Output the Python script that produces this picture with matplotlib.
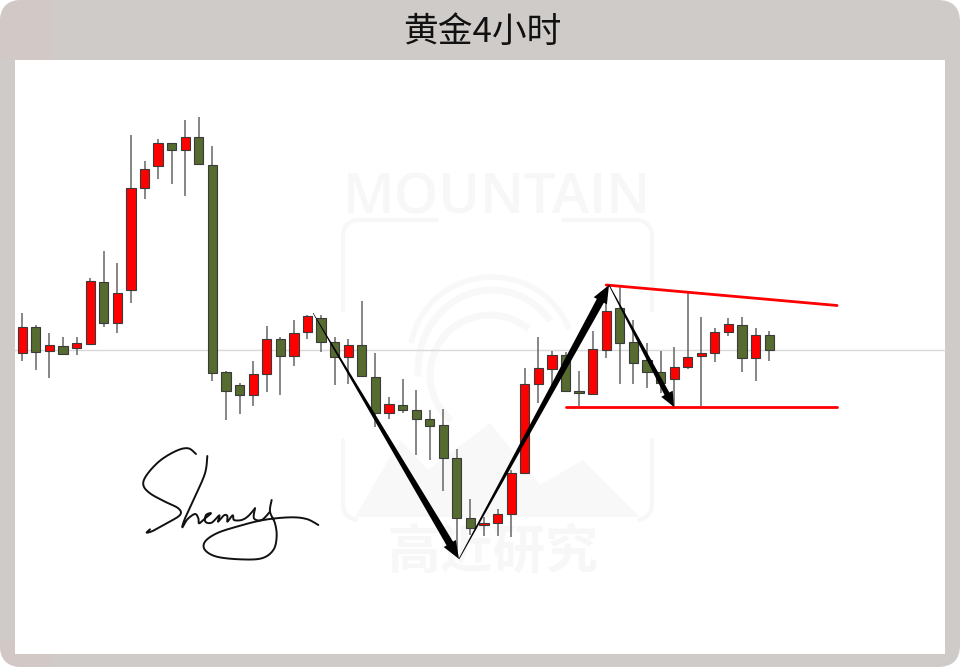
import numpy as np
import matplotlib
matplotlib.use("Agg")
import matplotlib.pyplot as plt
from matplotlib.patches import FancyBboxPatch, Rectangle, Polygon, Arc

plt.rcParams['font.family'] = ['Noto Sans CJK SC', 'DejaVu Sans']

# Candle readings on a screen-height scale (smaller = higher on the chart)
body_top = [327.3,326.7,345.3,346,343.3,280.7,281.7,292.7,188.3,169,143.3,143.3,136.7,136.7,165.3,372.3,
            385.3,374.3,338.7,338.7,332.7,315.7,318,342,344.7,345.3,376.7,404,404.7,409.7,419,425,
            458,518.3,522.7,514.3,472.7,383.7,368.3,355.3,355.3,391,349.3,310.7,308,341.7,359.7,372.3,
            366.7,357.3,352.7,332,324,325,335.3,335.3]
body_bottom = [353.3,352,351,353.7,348,343.7,323,323,290,188.3,166,150.3,150.3,163.7,373.3,391.3,
               394.7,394.7,374,356.3,356.3,332.3,342,357.3,357.3,376,413.3,413.3,409.7,419.3,426,458.3,
               518.3,527.7,525.3,522.7,514,472.7,384.3,369,391.3,393,394,349.7,342.7,363.3,372.3,383,
               379,366.7,356.3,352.7,332.3,358,358,350.3]
wick_top = [312.7,325,333.3,336.7,337.3,278.3,250.7,262.7,135.3,160.7,138.7,143.3,120,116.7,145.7,370.7,
            382.7,361.3,325.7,337.3,319.7,315,315,336.7,339,301,352.7,396.7,379,390,410.3,409.3,
            449.3,499.3,516.7,509.3,470,368,336.7,350.7,351.7,371.3,330.7,297,285,320,343,350.7,
            347.3,292.7,317,328.3,318.3,317,328.3,330.7]
wick_bottom = [360.7,370,377.7,353.7,355,343.7,327,332.7,303.3,198.7,178.7,184.3,196,165,381,420,
               414,406.3,392.3,395.3,366,338.7,352.3,384.7,383.7,376,426.7,419.3,413.3,455,460,491.3,
               553.3,535,535.7,535.7,537.3,474.3,403.3,386.7,392,406,394.3,358.3,383.7,383.7,388,393,
               409,368.7,406,361.7,336.3,371.7,381,360.7]
is_up = [1,0,1,0,1,1,0,1,1,1,1,0,1,0,0,0,
         0,1,1,0,1,1,0,0,1,0,0,1,0,0,0,0,
         0,0,1,1,1,1,1,1,0,0,1,1,0,0,0,0,
         1,1,1,1,1,0,1,0]
reference_level = 350.0
resistance = ([43.0, 60.0], [285.0, 305.5])
support = ([40.0, 60.0], [406.5, 406.5])
title = "黄金4小时"
watermark_en = "MOUNTAIN"
watermark_cn = "高近研究"

W, H = 960, 667
X0, DX = 22.3, 13.58
fig = plt.figure(figsize=(W/100, H/100), dpi=100, facecolor='white')

# Pixel-space layer: card, title, watermark, signature
bg = fig.add_axes([0, 0, 1, 1], zorder=0)
bg.set_xlim(0, W); bg.set_ylim(H, 0); bg.axis('off')

card = FancyBboxPatch((0, 0), W, H, boxstyle="round,pad=0,rounding_size=22",
                      fc='#cfcbc9', ec='none')
bg.add_patch(card)
for (x, y, w, h) in [(0, 0, 54, 60), (0, 640, 54, 27)]:
    r = Rectangle((x, y), w, h, fc='#d2c9c6', ec='none')
    bg.add_patch(r)
    r.set_clip_path(card)
bg.add_patch(Rectangle((15, 60), 930, 594, fc='white', ec='none'))
bg.text(482, 32.5, title, ha='center', va='center', fontsize=25, color='#111111', fontweight='medium')

# Watermark
WM = '#f7f7f7'
bg.text(497, 199, watermark_en, ha='center', va='center', fontsize=40.5, color=WM,
        family=['Open Sans', 'DejaVu Sans'], fontweight='semibold')
bg.text(493, 552, watermark_cn, ha='center', va='center', fontsize=38, color=WM, fontweight='bold')
frame_kw = dict(color=WM, lw=3, solid_capstyle='round')
bg.plot([437, 358], [220, 220], **frame_kw)
bg.plot([563, 637], [220, 220], **frame_kw)
bg.plot([343, 343], [235, 310], **frame_kw)
bg.plot([652, 652], [235, 310], **frame_kw)
bg.plot([343, 343], [440, 505], **frame_kw)
bg.plot([652, 652], [440, 505], **frame_kw)
for (cx, cy, t1, t2) in [(358, 235, 180, 270), (637, 235, 270, 360), (358, 505, 90, 180), (637, 505, 0, 90)]:
    bg.add_patch(Arc((cx, cy), 30, 30, theta1=min(t1, t2), theta2=max(t1, t2), color=WM, lw=3))
bg.add_patch(Polygon([(355, 517), (400, 440), (428, 470), (490, 423), (540, 485),
                      (583, 460), (640, 517)], closed=True, fc='#f8f8f8', ec='none'))
for (cx, cy, wd, ht, a1, a2, lw) in [(492, 357, 164, 160, 190, 340, 4),
                                     (492, 370, 148, 160, 175, 320, 5),
                                     (490, 375, 120, 120, 130, 310, 5)]:
    bg.add_patch(Arc((cx, cy), wd, ht, theta1=a1, theta2=a2, color='#f8f8f8', lw=lw))


def catmull(pts, n=14):
    p = np.array(pts, float)
    p = np.vstack([p[0], p, p[-1]])
    out = []
    for i in range(1, len(p)-2):
        t = np.linspace(0, 1, n)[:, None]
        out.append(0.5*((2*p[i]) + (-p[i-1]+p[i+1])*t + (2*p[i-1]-5*p[i]+4*p[i+1]-p[i+2])*t**2
                        + (-p[i-1]+3*p[i]-3*p[i+1]+p[i+2])*t**3))
    return np.vstack(out)


strokes = [
    [(198,42),(175,25),(140,32),(90,62),(50,105),(40,135),(60,160),(105,185),(145,205),(150,225),
     (110,250),(70,272),(50,278),(60,268)],
    [(232,48),(225,100),(195,170),(165,235),(157,262),(172,238),(195,222),(205,235),(207,250),
     (222,238),(243,220),(228,225),(226,245),(245,248),(268,226),(264,245),(282,226),(292,228),
     (292,245),(308,226),(312,240),(335,240),(355,228),(375,205)],
    [(425,180),(420,215),(435,250),(440,290),(430,330),(395,355),(330,358),(260,350),(225,330),
     (225,305),(260,280),(320,260),(400,240),(480,232),(530,237),(565,255)],
    [(375,205),(372,235),(395,240),(420,215)],
]
for s in strokes:
    c = catmull(s)
    bg.plot(130 + c[:, 0]/3, 440 + c[:, 1]/3, color='#111111', lw=1.4, solid_capstyle='round')

# Chart layer: candle index on x, chart level on y
ax = fig.add_axes([0, 0, 1, 1], zorder=1)
ax.patch.set_alpha(0)
ax.set_xlim(-X0/DX, (W-X0)/DX); ax.set_ylim(H, 0); ax.axis('off')

idx = np.arange(len(body_top))
top, bot = np.array(body_top), np.array(body_bottom)
ax.plot([(15-X0)/DX, (945-X0)/DX], [reference_level]*2, color='#d9d9d9', lw=1, zorder=1)
ax.vlines(idx, wick_top, wick_bottom, color='#666666', lw=1.1, zorder=2)
colors = ['#ff0000' if u else '#556b2f' for u in is_up]
ax.bar(idx, bot-top, bottom=top, width=0.68, color=colors, edgecolor='#3a3a3a', lw=0.8, zorder=3)

ax.plot(*resistance, color='#ff0000', lw=2.0, zorder=4, solid_capstyle='round')
ax.plot(*support, color='#ff0000', lw=2.0, zorder=4, solid_capstyle='round')


def tapered(p0, p1, w0, w1, head_l, head_w):
    p0, p1 = np.array(p0, float), np.array(p1, float)
    d = (p1-p0)/np.hypot(*(p1-p0))
    n = np.array([-d[1], d[0]])
    b = p1 - d*head_l
    pts = [p0+n*w0/2, b+n*w1/2, b+n*head_w/2, p1, b-n*head_w/2, b-n*w1/2, p0-n*w0/2]
    ax.add_patch(Polygon(pts, closed=True, fc='black', ec='none', zorder=5, transform=bg.transData))


tapered((313, 313), (459, 559), 0.6, 7.5, 18, 14)
tapered((459, 559), (609, 285), 0.8, 8, 18, 15)
tapered((609, 285), (674, 407), 0.8, 5.5, 15, 13)

fig.savefig('out.png', dpi=100, facecolor='white')
